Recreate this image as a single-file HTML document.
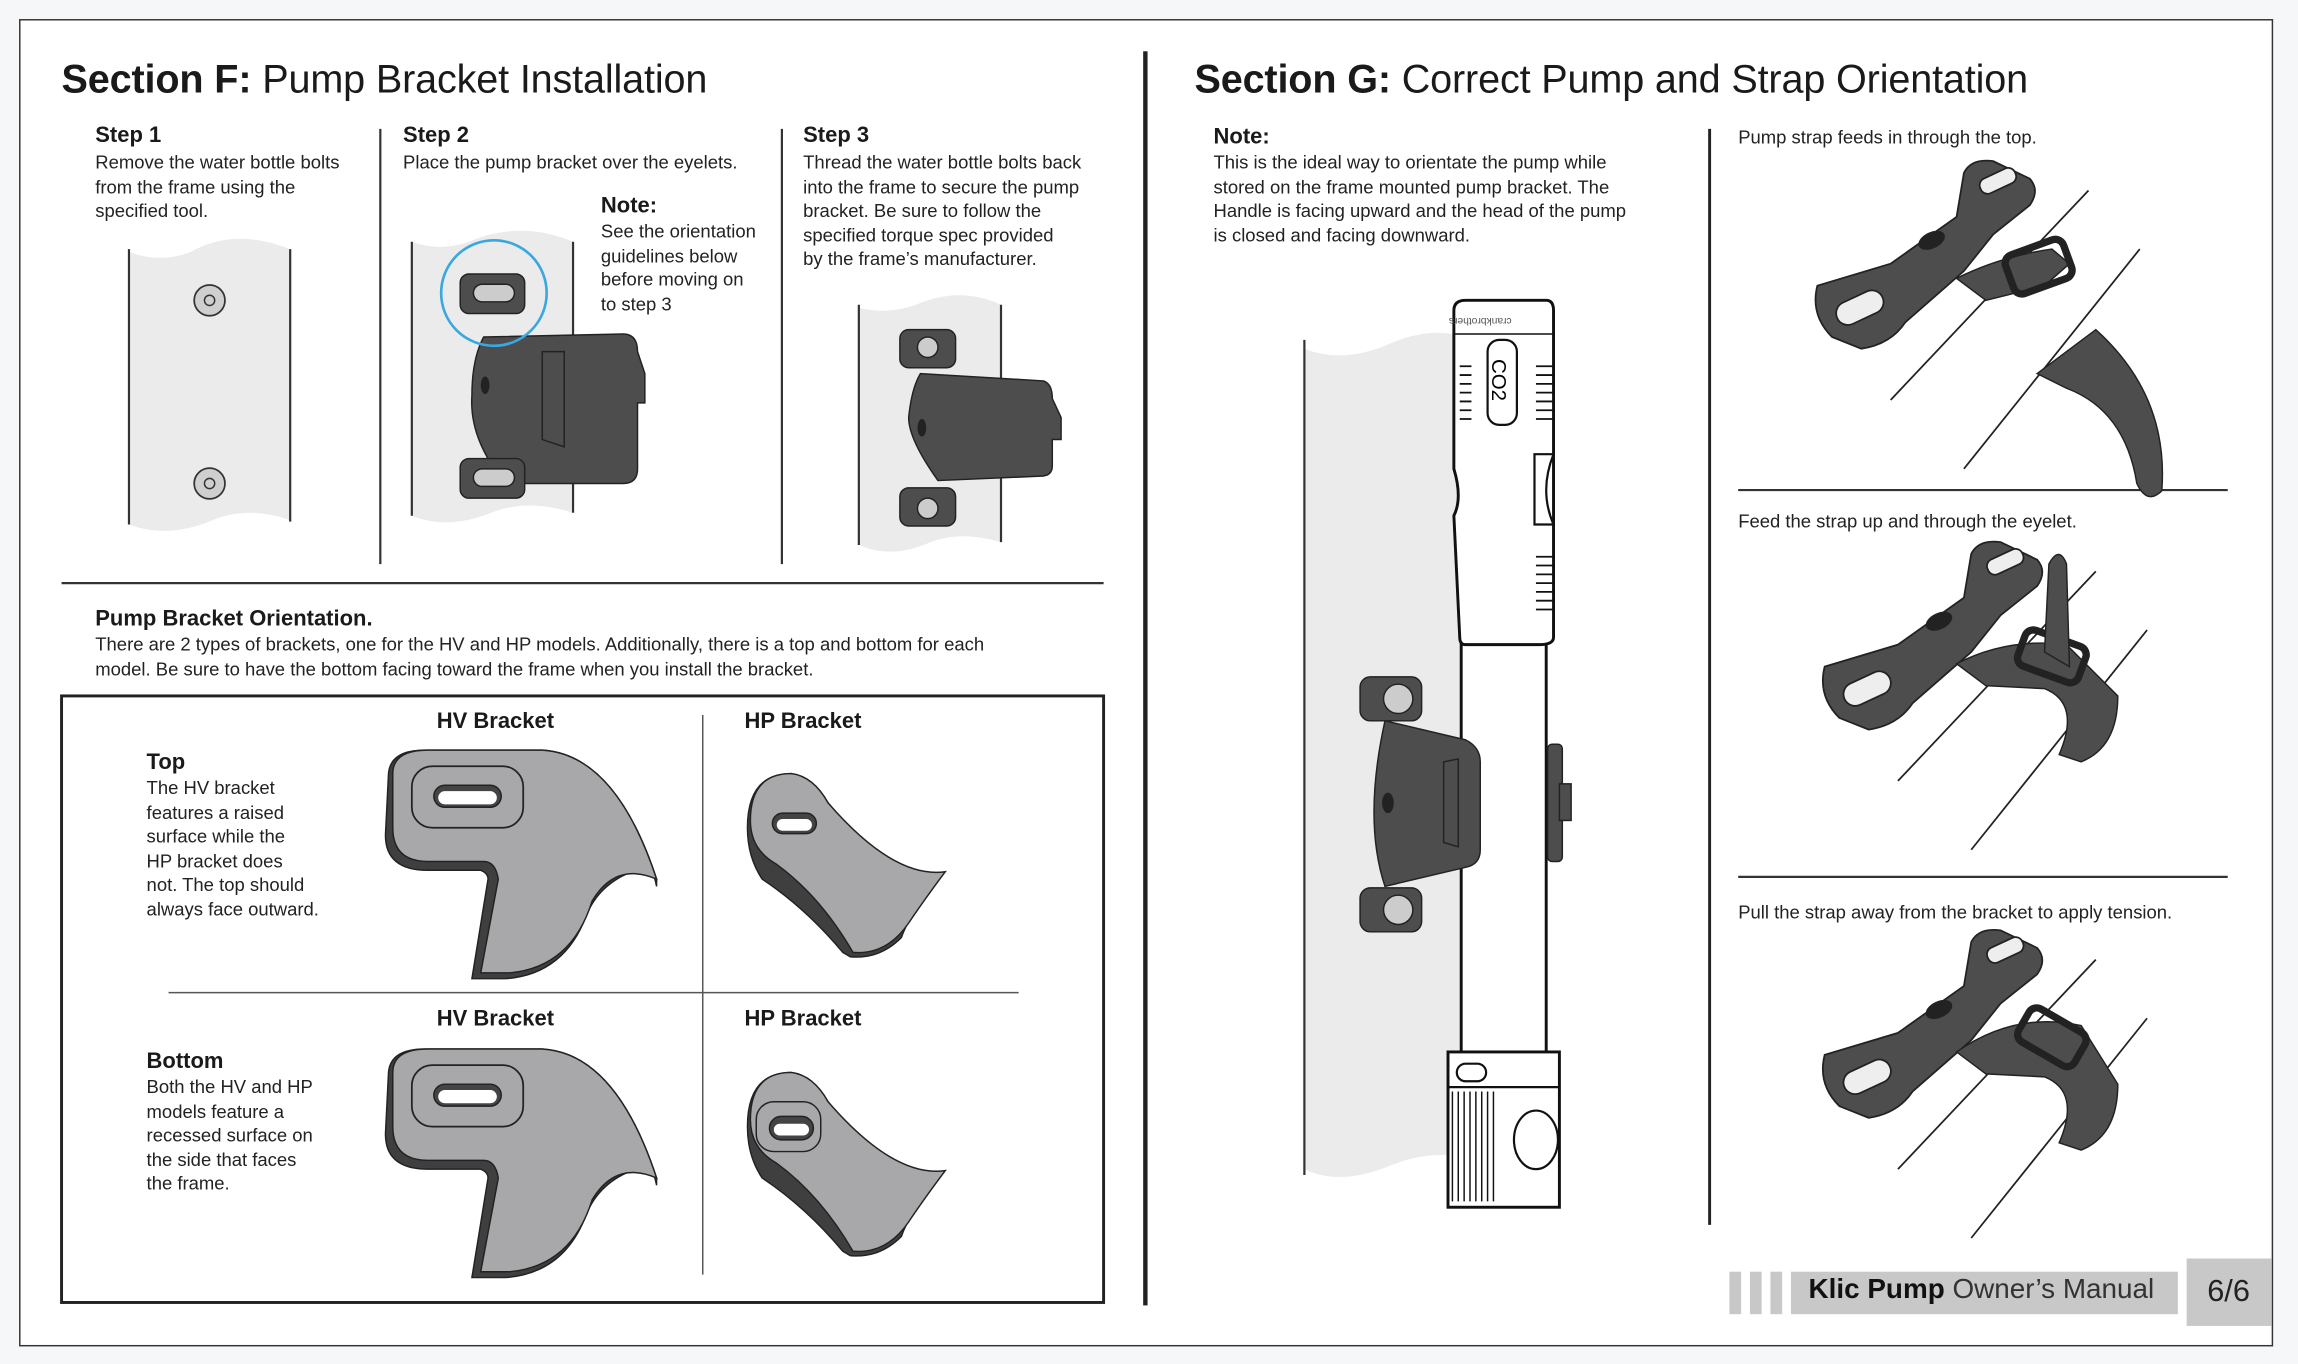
<!DOCTYPE html>
<html><head><meta charset="utf-8"><style>
html,body{margin:0;padding:0;background:#f6f7f9;}
body{width:2298px;height:1364px;overflow:hidden;position:relative;font-family:"Liberation Sans",Arial,sans-serif;color:#1a1a1a;}
#w{position:absolute;left:0;top:0;width:1568px;height:931px;transform-origin:0 0;transform:scale(1.4656,1.4651);}
.t{position:absolute;white-space:nowrap;}
.h1{font-size:27px;letter-spacing:-0.1px;}
.h2{font-size:15px;font-weight:bold;}
.p{font-size:12.6px;line-height:16.5px;color:#222;}
.p2{font-size:12.6px;line-height:16.5px;color:#222;}
</style></head><body><div id="w">
<svg width="1568" height="931" style="position:absolute;left:0;top:0">
<rect x="13.5" y="13.5" width="1537" height="905" fill="#fff" stroke="#333" stroke-width="1"/>
<rect x="780" y="35" width="3" height="856" fill="#222"/>
<line x1="259.5" y1="88" x2="259.5" y2="385" stroke="#333" stroke-width="1.5"/>
<line x1="533.5" y1="88" x2="533.5" y2="385" stroke="#333" stroke-width="1.5"/>
<line x1="42" y1="398" x2="753" y2="398" stroke="#333" stroke-width="1.5"/>
<rect x="42" y="475" width="711" height="414" fill="none" stroke="#222" stroke-width="2"/>
<line x1="479.5" y1="488" x2="479.5" y2="870" stroke="#555" stroke-width="1"/>
<line x1="115" y1="677.5" x2="695" y2="677.5" stroke="#555" stroke-width="1"/>
<line x1="1166.5" y1="88" x2="1166.5" y2="836" stroke="#222" stroke-width="2"/>
<line x1="1186" y1="334.5" x2="1520" y2="334.5" stroke="#333" stroke-width="1.5"/>
<line x1="1186" y1="598.5" x2="1520" y2="598.5" stroke="#333" stroke-width="1.5"/>

<path d="M88 172 Q110 180 130 172 Q160 155 198 170 L198 355 Q170 345 145 355 Q115 368 88 358 Z" fill="#ebebeb"/>
<line x1="88" y1="170" x2="88" y2="358" stroke="#333" stroke-width="1.5"/>
<line x1="198" y1="170" x2="198" y2="356" stroke="#333" stroke-width="1.5"/>
<circle cx="143" cy="205" r="10.5" fill="#cfcfcf" stroke="#333" stroke-width="1.2"/>
<circle cx="143" cy="205" r="3.5" fill="none" stroke="#333"/>
<circle cx="143" cy="330" r="10.5" fill="#cfcfcf" stroke="#333" stroke-width="1.2"/>
<circle cx="143" cy="330" r="3.5" fill="none" stroke="#333"/>

<path d="M281 165 Q300 172 320 165 Q355 150 391 165 L391 350 Q360 340 335 350 Q305 362 281 352 Z" fill="#ebebeb"/>
<line x1="281" y1="165" x2="281" y2="352" stroke="#333" stroke-width="1.5"/>
<line x1="391" y1="165" x2="391" y2="350" stroke="#333" stroke-width="1.5"/>
<g fill="#4d4d4d" stroke="#222" stroke-width="1">
<path d="M330 230 L425 228 Q435 228 435 240 L440 255 L440 275 L435 275 L435 320 Q435 330 425 330 L345 330 Q320 300 322 270 Q322 245 330 230 Z"/>
<rect x="314" y="187" width="44" height="27" rx="6"/>
<rect x="314" y="313" width="44" height="27" rx="6"/>
</g>
<rect x="323" y="194" width="28" height="12" rx="6" fill="#ccc" stroke="#222"/>
<rect x="323" y="320" width="28" height="12" rx="6" fill="#ccc" stroke="#222"/>
<path d="M370 240 L370 300 L385 305 L385 240 Z" fill="none" stroke="#222"/>
<ellipse cx="331" cy="263" rx="3" ry="6" fill="#222"/>
<circle cx="337" cy="200" r="36" fill="none" stroke="#3aa8e0" stroke-width="1.8"/>

<path d="M586 210 Q605 215 625 208 Q655 195 683 208 L683 370 Q655 362 635 370 Q608 382 586 372 Z" fill="#ebebeb"/>
<line x1="586" y1="208" x2="586" y2="372" stroke="#333" stroke-width="1.5"/>
<line x1="683" y1="208" x2="683" y2="370" stroke="#333" stroke-width="1.5"/>
<g fill="#4d4d4d" stroke="#222" stroke-width="1">
<path d="M628 255 L712 260 Q718 262 718 272 L724 285 L724 300 L718 300 L718 318 Q718 325 710 325 L640 328 Q620 300 620 285 Q622 265 628 255 Z"/>
<rect x="614" y="225" width="38" height="26" rx="6"/>
<rect x="614" y="333" width="38" height="26" rx="6"/>
</g>
<circle cx="633" cy="237" r="7" fill="#ccc" stroke="#222"/>
<circle cx="633" cy="347" r="7" fill="#ccc" stroke="#222"/>
<ellipse cx="629" cy="292" rx="3" ry="6" fill="#222"/>

<g id="hv">
<path d="M265 530 Q265 512 290 512 L370 512 Q420 515 448 600 L448 605 Q445 590 440 592 Q410 600 400 625 Q385 665 345 668 L322 668 L333 600 Q333 596 328 594 L292 594 Q263 594 263 570 Z" fill="#3f3f3f" stroke="#222"/>
<path d="M268 528 Q268 512 292 512 L370 512 Q420 515 448 600 Q420 588 404 615 Q390 660 348 664 L328 664 L340 600 Q338 588 330 588 L292 588 Q268 588 268 565 Z" fill="#a8a8ab" stroke="#222"/>
<rect x="281" y="523" width="76" height="42" rx="14" fill="#a8a8ab" stroke="#222" stroke-width="1.2"/>
<rect x="296" y="536" width="46" height="15" rx="7.5" fill="#444" stroke="#222"/>
<rect x="299" y="540" width="40" height="9" rx="4.5" fill="#fff"/>
</g>
<use href="#hv" transform="translate(0,204)"/>
<g id="hp">
<path d="M510 565 Q510 528 540 528 Q555 530 565 548 Q605 600 640 596 L640 600 Q620 625 615 640 Q600 655 580 653 L575 650 Q550 620 520 600 Q510 585 510 565 Z" fill="#3f3f3f" stroke="#222"/>
<path d="M512 560 Q512 528 540 528 Q555 530 565 548 Q610 600 645 595 Q630 615 620 630 Q605 652 582 650 Q560 612 530 590 Q512 580 512 560 Z" fill="#a8a8ab" stroke="#222"/>
</g>
<rect x="527" y="555" width="30" height="14" rx="7" fill="#444" stroke="#222"/>
<rect x="530" y="559" width="24" height="8" rx="4" fill="#fff"/>
<use href="#hp" transform="translate(0,204)"/>
<rect x="516" y="752" width="44" height="34" rx="12" fill="#a8a8ab" stroke="#222"/>
<rect x="525" y="762" width="30" height="16" rx="8" fill="#444" stroke="#222"/>
<rect x="528" y="767" width="24" height="8" rx="4" fill="#fff"/>

<path d="M890 238 Q915 248 945 236 Q975 222 1000 230 L1000 790 Q975 785 950 795 Q915 810 890 798 Z" fill="#ebebeb"/>
<line x1="890" y1="232" x2="890" y2="802" stroke="#333" stroke-width="1.5"/>
<g stroke="#111" stroke-width="2" fill="#fff">
<rect x="997" y="438" width="58" height="282"/>
<path d="M992 212 Q992 205 1000 205 L1055 205 Q1060 205 1060 212 L1060 435 Q1060 440 1050 440 L1000 440 Q996 440 996 435 L992 352 Q998 340 992 320 Z"/>
<rect x="988" y="718" width="76" height="106"/>
</g>
<line x1="992" y1="228" x2="1060" y2="228" stroke="#111" stroke-width="1"/>
<rect x="1015" y="232" width="20" height="58" rx="8" fill="#fff" stroke="#111" stroke-width="1.5"/>
<text x="1018" y="245" transform="rotate(90 1018 245)" font-size="14" font-family="Liberation Sans">CO2</text>
<text x="1010" y="223" text-anchor="middle" transform="rotate(180 1010 220)" font-size="7" fill="#555" font-family="Liberation Sans">crankbrothers</text>
<path d="M996 250 h8 M996 256 h8 M996 262 h8 M996 268 h8 M996 274 h8 M996 280 h8 M996 286 h8 M1048 250 h12 M1048 256 h12 M1048 262 h12 M1048 268 h12 M1048 274 h12 M1048 280 h12 M1048 286 h12 M1048 380 h12 M1048 386 h12 M1048 392 h12 M1048 398 h12 M1048 404 h12 M1048 410 h12 M1048 416 h12" stroke="#111" stroke-width="1.2"/>
<path d="M1047 310 L1047 358 L1060 358 Q1050 335 1060 310 Z" fill="#fff" stroke="#111" stroke-width="1.5"/>
<line x1="988" y1="742" x2="1064" y2="742" stroke="#111" stroke-width="1.5"/>
<path d="M991 745 v75 M995 745 v75 M999 745 v75 M1003 745 v75 M1007 745 v75 M1011 745 v75 M1015 745 v75 M1019 745 v75" stroke="#111" stroke-width="1"/>
<ellipse cx="1048" cy="778" rx="15" ry="20" fill="#fff" stroke="#111" stroke-width="1.5"/>
<rect x="994" y="726" width="20" height="12" rx="6" fill="#fff" stroke="#111" stroke-width="1.5"/>
<rect x="1056" y="508" width="10" height="80" rx="3" fill="#4d4d4d" stroke="#222"/>
<rect x="1064" y="535" width="8" height="25" fill="#4d4d4d" stroke="#222"/>
<g fill="#4d4d4d" stroke="#222">
<path d="M945 492 L1000 505 Q1010 510 1010 520 L1010 580 Q1010 590 1000 592 L945 605 Q930 560 945 492 Z"/>
<rect x="928" y="462" width="42" height="30" rx="7"/>
<rect x="928" y="606" width="42" height="30" rx="7"/>
</g>
<circle cx="954" cy="477" r="10" fill="#ccc" stroke="#222"/>
<circle cx="954" cy="621" r="10" fill="#ccc" stroke="#222"/>
<ellipse cx="947" cy="548" rx="4" ry="7" fill="#222"/>
<path d="M985 520 L985 575 L995 578 L995 518 Z" fill="none" stroke="#222"/>

<g id="st" stroke="#222" stroke-width="1.2">
<line x1="1290" y1="273" x2="1425" y2="130" />
<line x1="1340" y1="320" x2="1460" y2="170" />
<path d="M1240 195 L1290 180 L1335 148 L1340 118 Q1345 108 1360 110 L1385 122 Q1392 130 1385 140 L1360 160 L1340 185 L1300 220 Q1290 235 1270 238 L1250 230 Q1235 215 1240 195 Z" fill="#4d4d4d"/>
<rect x="1252" y="202" width="34" height="16" rx="8" fill="#eee" transform="rotate(-25 1269 210)"/>
<rect x="1350" y="118" width="26" height="11" rx="5" fill="#eee" transform="rotate(-25 1363 123)"/>
<ellipse cx="1318" cy="164" rx="9" ry="5" fill="#222" transform="rotate(-25 1318 164)"/>
</g>
<path d="M1335 190 Q1365 175 1400 170 L1412 180 L1395 195 L1355 205 Z" fill="#4d4d4d" stroke="#222"/>
<rect x="1370" y="168" width="42" height="28" rx="6" fill="none" stroke="#222" stroke-width="5" transform="rotate(-20 1391 182)"/>
<path d="M1390 255 L1430 225 Q1480 270 1475 335 Q1465 345 1458 330 Q1450 280 1410 265 Z" fill="#4d4d4d" stroke="#222"/>
<use href="#st" transform="translate(5,260)"/>
<path d="M1335 453 Q1370 435 1410 440 L1445 475 Q1445 510 1420 520 L1405 515 Q1420 480 1395 470 L1355 468 Z" fill="#4d4d4d" stroke="#222"/>
<rect x="1378" y="435" width="44" height="26" rx="6" fill="none" stroke="#222" stroke-width="5" transform="rotate(20 1400 448)"/>
<path d="M1395 445 L1398 385 Q1405 372 1410 385 L1412 455 Z" fill="#4d4d4d" stroke="#222"/>
<use href="#st" transform="translate(5,525)"/>
<path d="M1335 718 Q1375 690 1420 700 L1445 740 Q1445 775 1420 785 L1405 780 Q1420 745 1395 735 L1355 733 Z" fill="#4d4d4d" stroke="#222"/>
<rect x="1378" y="695" width="44" height="26" rx="6" fill="none" stroke="#222" stroke-width="5" transform="rotate(30 1400 708)"/>

<rect x="1180" y="868" width="8" height="29" fill="#c8c8c8"/>
<rect x="1194" y="868" width="8" height="29" fill="#c8c8c8"/>
<rect x="1208" y="868" width="8" height="29" fill="#c8c8c8"/>
<rect x="1222" y="868" width="264" height="29" fill="#c8c8c8"/>
<rect x="1492" y="859" width="58" height="46" fill="#c8c8c8"/>
</svg>

<div class="t h1" style="left:42px;top:39px"><b>Section F:</b> Pump Bracket Installation</div>
<div class="t h1" style="left:815px;top:39px"><b>Section G:</b> Correct Pump and Strap Orientation</div>

<div class="t h2" style="left:65px;top:84px">Step 1</div>
<div class="t p" style="left:65px;top:103px">Remove the water bottle bolts<br>from the frame using the<br>specified tool.</div>
<div class="t h2" style="left:275px;top:84px">Step 2</div>
<div class="t p" style="left:275px;top:103px">Place the pump bracket over the eyelets.</div>
<div class="t h2" style="left:410px;top:132px">Note:</div>
<div class="t p" style="left:410px;top:150px">See the orientation<br>guidelines below<br>before moving on<br>to step 3</div>
<div class="t h2" style="left:548px;top:84px">Step 3</div>
<div class="t p" style="left:548px;top:103px">Thread the water bottle bolts back<br>into the frame to secure the pump<br>bracket. Be sure to follow the<br>specified torque spec provided<br>by the frame’s manufacturer.</div>

<div class="t h2" style="left:65px;top:414px">Pump Bracket Orientation.</div>
<div class="t p" style="left:65px;top:432px">There are 2 types of brackets, one for the HV and HP models. Additionally, there is a top and bottom for each<br>model. Be sure to have the bottom facing toward the frame when you install the bracket.</div>

<div class="t h2" style="left:298px;top:484px">HV Bracket</div>
<div class="t h2" style="left:508px;top:484px">HP Bracket</div>
<div class="t h2" style="left:298px;top:687px">HV Bracket</div>
<div class="t h2" style="left:508px;top:687px">HP Bracket</div>
<div class="t h2" style="left:100px;top:512px">Top</div>
<div class="t p" style="left:100px;top:530px">The HV bracket<br>features a raised<br>surface while the<br>HP bracket does<br>not. The top should<br>always face outward.</div>
<div class="t h2" style="left:100px;top:716px">Bottom</div>
<div class="t p" style="left:100px;top:734px">Both the HV and HP<br>models feature a<br>recessed surface on<br>the side that faces<br>the frame.</div>

<div class="t h2" style="left:828px;top:85px">Note:</div>
<div class="t p" style="left:828px;top:103px">This is the ideal way to orientate the pump while<br>stored on the frame mounted pump bracket. The<br>Handle is facing upward and the head of the pump<br>is closed and facing downward.</div>

<div class="t p2" style="left:1186px;top:86px">Pump strap feeds in through the top.</div>
<div class="t p2" style="left:1186px;top:348px">Feed the strap up and through the eyelet.</div>
<div class="t p2" style="left:1186px;top:615px">Pull the strap away from the bracket to apply tension.</div>

<div class="t" style="left:1234px;top:870px;font-size:19px;color:#111"><b>Klic Pump</b> <span style="color:#333">Owner’s Manual</span></div>
<div class="t" style="left:1506px;top:870px;font-size:21px;color:#222">6/6</div>
</div></body></html>
